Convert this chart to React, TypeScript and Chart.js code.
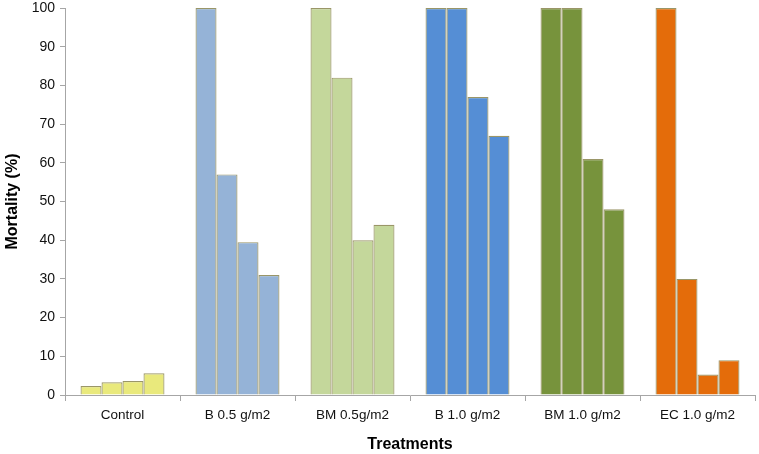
import React, { useEffect, useRef } from "react";
import { Chart, registerables } from "chart.js";

Chart.register(...registerables);

const categories = ["Control", "B 0.5 g/m2", "BM 0.5g/m2", "B 1.0 g/m2", "BM 1.0 g/m2", "EC 1.0 g/m2"];
const series1 = [2.3, 100, 100, 100, 100, 100];
const series2 = [3.3, 57, 82, 100, 100, 30];
const series3 = [3.6, 39.5, 40, 77, 61, 5.3];
const series4 = [5.6, 31, 44, 67, 48, 9];
const groupColors = ["#e9e97c", "#95b3d7", "#c4d79b", "#558ed5", "#77933c", "#e46c0a"];
const yTicks = [0, 10, 20, 30, 40, 50, 60, 70, 80, 90, 100];

export default function App() {
  const ref = useRef<HTMLCanvasElement>(null);
  useEffect(() => {
    document.body.style.margin = "0";
    const ctx = ref.current!;
    const mk = (data: number[]) => ({
      data,
      backgroundColor: groupColors,
      borderColor: "#9a9668",
      borderWidth: 1.2,
      borderSkipped: "bottom" as const,
      categoryPercentage: 0.73,
      barPercentage: 1.0,
    });
    const chart = new Chart(ctx, {
      type: "bar",
      data: {
        labels: categories,
        datasets: [mk(series1), mk(series2), mk(series3), mk(series4)],
      },
      options: {
        animation: false,
        responsive: false,
        maintainAspectRatio: false,
        layout: { padding: { top: 8, right: 4, left: 0, bottom: 0 } },
        plugins: { legend: { display: false }, tooltip: { enabled: false } },
        scales: {
          x: {
            grid: {
              display: true,
              drawOnChartArea: false,
              drawTicks: true,
              tickLength: 6,
              color: "#a6a6a6",
              offset: true,
            },
            border: { display: true, color: "#a6a6a6", width: 1 },
            ticks: {
              color: "#111",
              font: { family: "Liberation Sans, Arial, sans-serif", size: 13.5 },
              padding: 6,
              maxRotation: 0,
              autoSkip: false,
            },
            title: {
              display: true,
              text: "Treatments",
              color: "#000",
              font: { family: "Liberation Sans, Arial, sans-serif", size: 16, weight: "bold" },
              padding: { top: 4, bottom: 0 },
            },
            afterFit: (scale: any) => {
              scale.height = 59;
              scale.paddingLeft = 0;
              scale.paddingRight = 0;
            },
          } as any,
          y: {
            min: 0,
            max: 100,
            afterBuildTicks: (scale: any) => {
              scale.ticks = yTicks.map((v) => ({ value: v }));
            },
            grid: {
              display: true,
              drawOnChartArea: false,
              drawTicks: true,
              tickLength: 5,
              color: "#a6a6a6",
            },
            border: { display: true, color: "#a6a6a6", width: 1 },
            ticks: {
              color: "#111",
              font: { family: "Liberation Sans, Arial, sans-serif", size: 14 },
              padding: 5,
            },
            title: {
              display: true,
              text: "Mortality (%)",
              color: "#000",
              font: { family: "Liberation Sans, Arial, sans-serif", size: 16, weight: "bold" },
              padding: { top: 3, bottom: 4 },
            },
            afterFit: (scale: any) => {
              scale.width = 65;
              scale.paddingTop = 0;
              scale.paddingBottom = 0;
            },
          } as any,
        },
      },
    });
    return () => chart.destroy();
  }, []);
  return (
    <div style={{ width: 759, height: 454 }}>
      <canvas ref={ref} width={759} height={454} style={{ width: 759, height: 454, display: "block" }} />
    </div>
  );
}
